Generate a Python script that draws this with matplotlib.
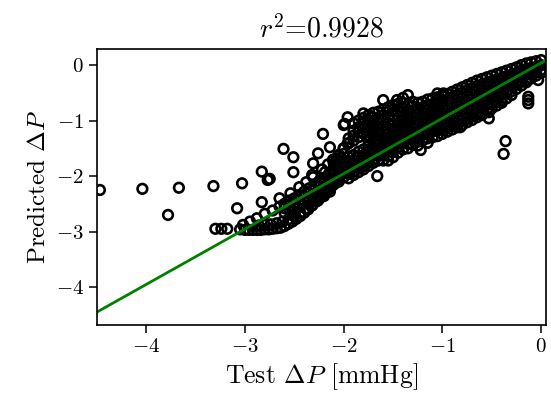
import numpy as np
import matplotlib.pyplot as plt

#%% Data

# scattered outliers and the sparse lower-left part
outlier_x = [-4.47, -4.04, -3.78, -3.67, -3.32, -3.03, -3.08, -2.83, -2.83, -2.75,
             -2.61, -2.51, -2.51, -2.65, -2.21, -1.99, -2.26, -2.31, -2.32, -2.14,
             -2.07, -2.11, -2.00, -1.80, -1.60, -1.40, -1.35, -1.05, -0.99, -0.36,
             -0.38, -0.13, -0.13, -0.13, -0.53, -0.53, -0.03, -1.66, -1.22, -0.82,
             -0.74, -2.77, -2.19]
outlier_y = [-2.25, -2.23, -2.70, -2.21, -2.18, -2.13, -2.58, -2.47, -1.92, -2.05,
             -1.51, -1.66, -1.93, -2.40, -1.24, -1.06, -1.59, -1.77, -1.98, -1.48,
             -1.68, -1.89, -1.08, -0.87, -0.63, -0.59, -0.54, -0.51, -0.51, -1.37,
             -1.60, -0.57, -0.69, -0.63, -0.96, -0.85, -0.27, -2.00, -1.53, -1.12,
             -0.93, -2.07, -1.93]

# bottom row and lower arc below the fit line
arc_x = [-3.30, -3.24, -3.18, -3.05, -3.00, -2.96, -2.92, -2.88, -2.84, -2.80,
         -2.76, -2.72, -2.68, -2.64, -2.60, -2.56, -2.52, -2.48, -2.44, -2.40,
         -2.36, -2.32, -2.28, -2.24, -2.20, -2.16, -2.12, -2.08,
         -2.86, -2.80, -2.74, -2.68, -2.62, -2.56, -2.50, -2.44, -2.38, -2.32,
         -2.26, -2.20, -2.14]
arc_y = [-2.95, -2.95, -2.95, -2.96, -2.97, -2.97, -2.97, -2.97, -2.97, -2.96,
         -2.96, -2.95, -2.94, -2.93, -2.90, -2.86, -2.82, -2.77, -2.72, -2.66,
         -2.60, -2.53, -2.46, -2.39, -2.32, -2.25, -2.18, -2.12,
         -2.89, -2.88, -2.87, -2.85, -2.82, -2.78, -2.72, -2.66, -2.59, -2.52,
         -2.44, -2.36, -2.28]

# points running along the line at the lower left
near_x = [-3.02, -2.95, -2.88, -2.80, -2.72, -2.65]
near_y = [-2.88, -2.82, -2.76, -2.68, -2.62, -2.55]

# upper band above the line
upper_x = [-2.54, -2.45, -2.38, -2.31, -2.22, -2.16, -2.11, -2.05, -2.00, -1.96,
           -1.96, -1.80, -1.63, -1.46]
upper_y = [-2.31, -2.20, -2.11, -2.02, -1.88, -1.79, -1.71, -1.62, -1.50, -1.41,
           -0.94, -1.23, -1.05, -0.63]

# dense band, column by column
band_x = [-2.60, -2.55, -2.50, -2.45, -2.40, -2.35, -2.30, -2.25, -2.20, -2.15,
          -2.10, -2.05, -2.00, -1.95, -1.90, -1.85, -1.80, -1.75, -1.70, -1.65,
          -1.60, -1.55, -1.50, -1.45, -1.40, -1.35, -1.30, -1.25, -1.20, -1.15,
          -1.10, -1.05, -1.00, -0.95, -0.90, -0.85, -0.80, -0.75, -0.70, -0.65,
          -0.60, -0.55, -0.50, -0.45, -0.40, -0.35, -0.30, -0.25, -0.20, -0.15,
          -0.10, -0.05, 0.00]
band_y = [
    [-2.50, -2.58, -2.66],
    [-2.44, -2.53, -2.62],
    [-2.40, -2.48, -2.57],
    [-2.34, -2.43, -2.52],
    [-2.28, -2.37, -2.46],
    [-2.22, -2.31, -2.40],
    [-2.16, -2.25, -2.34, -2.43],
    [-2.10, -2.19, -2.28, -2.37],
    [-2.03, -2.12, -2.21, -2.30],
    [-1.96, -2.05, -2.14, -2.23],
    [-1.88, -1.97, -2.06, -2.15, -1.70, -1.78],
    [-1.80, -1.90, -2.00, -2.10, -1.62, -1.71],
    [-1.72, -1.82, -1.92, -2.02, -1.50, -1.60],
    [-1.76, -1.86, -1.96, -2.04, -1.41, -1.66, -1.32],
    [-1.62, -1.72, -1.82, -1.92, -1.98, -1.36, -1.05, -1.18, -1.27],
    [-1.56, -1.66, -1.76, -1.86, -1.93, -1.30, -1.00, -1.12, -1.21],
    [-1.52, -1.62, -1.72, -1.82, -1.88, -1.23, -1.14, -0.95, -1.05],
    [-1.36, -1.46, -1.56, -1.66, -1.76, -1.82, -1.18, -1.08, -0.90, -0.99, -1.27],
    [-1.30, -1.40, -1.50, -1.60, -1.70, -1.76, -1.12, -1.02, -0.86, -0.94, -1.21],
    [-1.44, -1.54, -1.64, -1.72, -1.05, -0.96, -0.84, -1.14, -1.24, -1.34],
    [-1.32, -1.42, -1.52, -1.62, -1.72, -1.00, -0.90, -0.80, -1.10, -1.20],
    [-1.14, -1.24, -1.34, -1.44, -1.54, -1.64, -1.72, -0.84, -0.76, -0.94, -1.04],
    [-1.06, -1.16, -1.26, -1.36, -1.46, -1.56, -1.66, -0.80, -0.72, -0.90],
    [-0.98, -1.08, -1.18, -1.28, -1.38, -1.48, -1.58, -0.70, -0.84],
    [-0.90, -1.00, -1.10, -1.20, -1.30, -1.40, -1.52, -0.68, -0.78],
    [-0.82, -0.92, -1.02, -1.12, -1.22, -1.32, -1.42, -1.50, -0.72],
    [-0.74, -0.84, -0.94, -1.04, -1.14, -1.24, -1.34, -1.44, -0.66],
    [-0.68, -0.78, -0.88, -0.98, -1.08, -1.18, -1.28, -1.38, -1.45],
    [-0.66, -0.76, -0.86, -0.96, -1.06, -1.16, -1.26, -1.36],
    [-0.62, -0.72, -0.82, -0.92, -1.02, -1.12, -1.22, -1.32, -1.40],
    [-0.60, -0.70, -0.80, -0.90, -1.00, -1.10, -1.20, -1.30],
    [-0.58, -0.68, -0.78, -0.88, -0.98, -1.08, -1.18, -1.28],
    [-0.56, -0.66, -0.76, -0.86, -0.96, -1.06, -1.16, -1.24],
    [-0.52, -0.62, -0.72, -0.82, -0.92, -1.02, -1.12, -1.20],
    [-0.48, -0.58, -0.68, -0.78, -0.88, -0.98, -1.08, -1.16],
    [-0.44, -0.54, -0.64, -0.74, -0.84, -0.94, -1.04, -1.12],
    [-0.40, -0.50, -0.60, -0.70, -0.80, -0.90, -1.00, -1.08],
    [-0.36, -0.46, -0.56, -0.66, -0.76, -0.86, -0.96, -1.03],
    [-0.32, -0.42, -0.52, -0.62, -0.72, -0.82, -0.92, -0.99],
    [-0.28, -0.38, -0.48, -0.58, -0.68, -0.78, -0.88, -0.94],
    [-0.25, -0.35, -0.45, -0.55, -0.65, -0.75, -0.85, -0.90],
    [-0.22, -0.32, -0.42, -0.52, -0.62, -0.72, -0.82],
    [-0.19, -0.29, -0.39, -0.49, -0.59, -0.69, -0.78],
    [-0.16, -0.26, -0.36, -0.46, -0.56, -0.66, -0.73],
    [-0.13, -0.23, -0.33, -0.43, -0.53, -0.63, -0.68],
    [-0.10, -0.20, -0.30, -0.40, -0.50, -0.60],
    [-0.07, -0.17, -0.27, -0.37, -0.47, -0.54],
    [-0.04, -0.14, -0.24, -0.34, -0.43],
    [0.00, -0.10, -0.20, -0.30, -0.37],
    [0.03, -0.07, -0.17, -0.27, -0.31],
    [0.05, -0.05, -0.15, -0.24],
    [0.07, -0.03, -0.13, -0.19],
    [0.09, 0.00, -0.09, -0.14],
]

# fitted line end points
line_x = [-4.50, 0.05]
line_y = [-4.45, 0.09]

r2_text = r'$r^2$=0.9928'

#%% Collect the points

test_dp = list(outlier_x) + list(arc_x) + list(near_x) + list(upper_x)
pred_dp = list(outlier_y) + list(arc_y) + list(near_y) + list(upper_y)
for bx, col in zip(band_x, band_y):
    for by in col:
        test_dp.append(bx)
        pred_dp.append(by)

#%% Plot

plt.rcParams['mathtext.fontset'] = 'cm'
plt.rcParams['font.family'] = 'serif'
plt.rcParams['font.serif'] = ['cmr10']
plt.rcParams['axes.formatter.use_mathtext'] = True

fig = plt.figure(figsize=(5.51, 4.05), dpi=100)
ax = fig.add_axes([0.176, 0.198, 0.815, 0.681])

ax.scatter(test_dp, pred_dp, s=48, facecolors='none', edgecolors='black', linewidths=1.9)
ax.plot(line_x, line_y, color='green', lw=2.0)

ax.set_xlim(-4.5, 0.05)
ax.set_ylim(-4.68, 0.29)
ax.set_xticks([-4, -3, -2, -1, 0])
ax.set_yticks([0, -1, -2, -3, -4])
ax.tick_params(direction='out', length=6, width=1.1, labelsize=15, top=False, right=False)
for sp in ax.spines.values():
    sp.set_linewidth(1.2)

ax.set_title(r2_text, fontsize=20, pad=8)
ax.set_xlabel(r'Test $\Delta P$ [mmHg]', fontsize=18.5)
ax.set_ylabel(r'Predicted $\Delta P$', fontsize=18)

fig.savefig('out.png', dpi=100)
